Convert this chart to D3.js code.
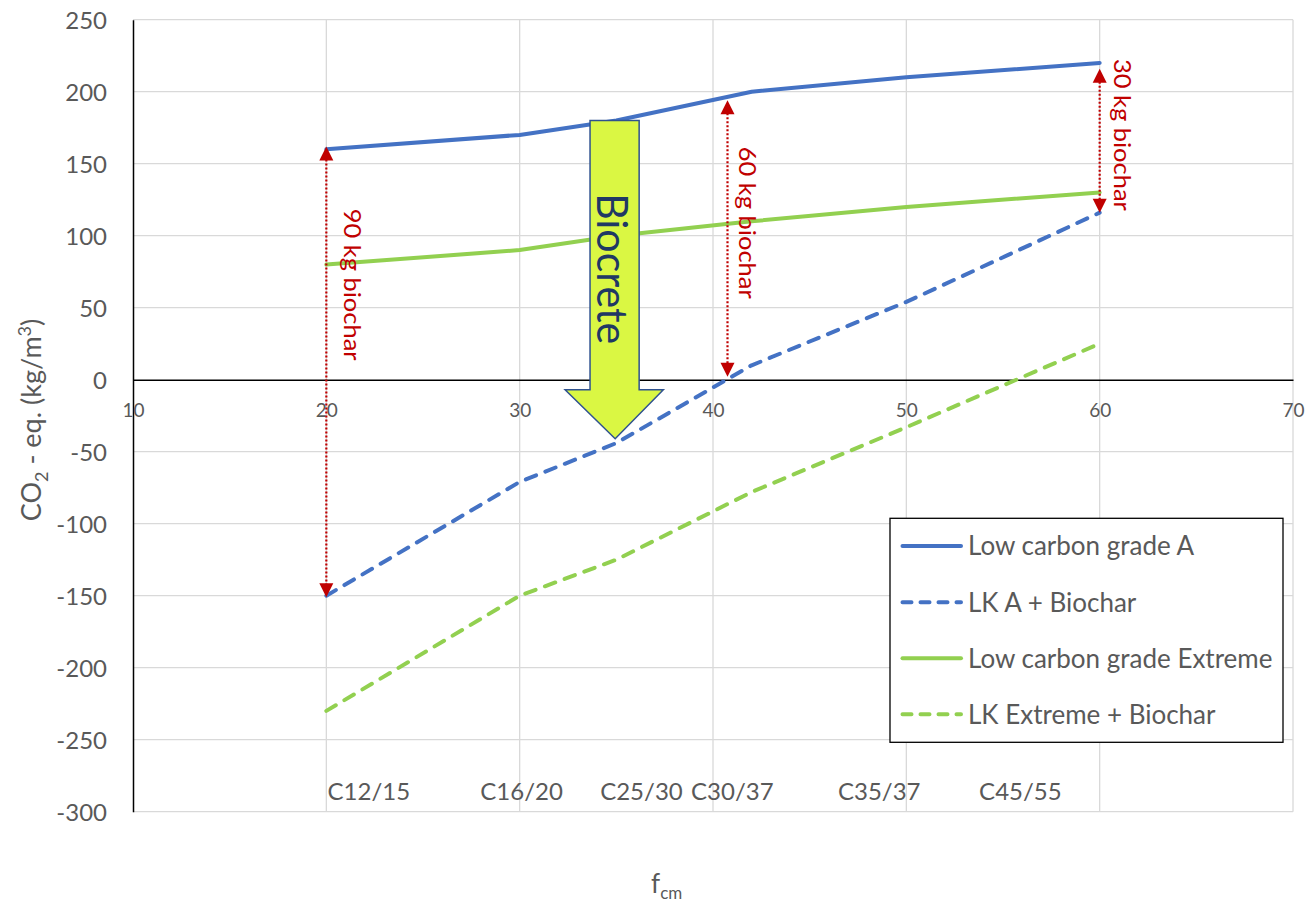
<!DOCTYPE html>
<html>
<head>
<meta charset="utf-8">
<script src="https://cdn.jsdelivr.net/npm/d3@7"></script>
<style>
  html, body { margin: 0; padding: 0; background: #fff; }
  svg { display: block; font-family: Lato, "Open Sans", sans-serif; }
</style>
</head>
<body>
<svg id="chart" width="1308" height="906"></svg>
<script>
// ---------------- data ----------------
const fcm = [20, 30, 35, 42, 50, 60];
const lowCarbonA = [160, 170, 180, 200, 210, 220];
const lkABiochar = [-150, -71, -44, 10, 54, 116];
const lowCarbonExtreme = [80, 90, 100, 110, 120, 130];
const lkExtremeBiochar = [-230, -150, -125, -78, -33, 25];
const seriesNames = ["Low carbon grade A", "LK A + Biochar", "Low carbon grade Extreme", "LK Extreme + Biochar"];

const classLabels = ["C12/15", "C16/20", "C25/30", "C30/37", "C35/37", "C45/55"];
const classLabelFcm = [22.2, 30.1, 36.3, 41.0, 48.6, 55.9];
const classLabelY = -290;

const xTicks = [10, 20, 30, 40, 50, 60, 70];
const yTicks = [-300, -250, -200, -150, -100, -50, 0, 50, 100, 150, 200, 250];

const biocharLabels = ["90 kg biochar", "60 kg biochar", "30 kg biochar"];
const biocharX = [20, 40.75, 60];
const biocharTop = [162, 194, 216];
const biocharBottom = [-151, 2, 116];
const biocharLabelX = [21.35, 41.75, 61.15];
const biocharLabelY = [66, 109, 170];

const biocreteLabel = "Biocrete";

// ---------------- setup ----------------
const svg = d3.select("#chart");
const x = d3.scaleLinear().domain([10, 70]).range([133, 1293]);
const y = d3.scaleLinear().domain([-300, 250]).range([811.7, 19.7]);

const grid = "#D9D9D9";
const textGrey = "#595959";
const blue = "#4472C4";
const green = "#92D050";
const red = "#C00000";

// gridlines
svg.append("g").selectAll("line").data(yTicks.filter(d => d !== 0)).join("line")
  .attr("x1", x(10)).attr("x2", x(70))
  .attr("y1", d => y(d)).attr("y2", d => y(d))
  .attr("stroke", grid).attr("stroke-width", 1.3);
svg.append("g").selectAll("line").data(xTicks.filter(d => d !== 10)).join("line")
  .attr("x1", d => x(d)).attr("x2", d => x(d))
  .attr("y1", y(250)).attr("y2", y(-300))
  .attr("stroke", grid).attr("stroke-width", 1.3);

// y axis
const yAxis = svg.append("g").attr("transform", `translate(${x(10)},0)`)
  .call(d3.axisLeft(y).tickValues(yTicks).tickSize(0).tickPadding(26).tickFormat(d => String(d)));
yAxis.select(".domain").attr("stroke", "#000").attr("stroke-width", 1.5);
yAxis.selectAll("text").attr("font-size", 24).attr("fill", textGrey)
  .attr("font-family", "Lato").attr("dy", "0.36em");

// x axis on the zero line
const xAxis = svg.append("g").attr("transform", `translate(0,${y(0)})`)
  .call(d3.axisBottom(x).tickValues(xTicks).tickSize(0).tickFormat(d => String(d)));
xAxis.select(".domain").attr("stroke", "#000").attr("stroke-width", 1.5);
xAxis.selectAll("text").attr("font-size", 19).attr("fill", textGrey)
  .attr("font-family", "Lato").attr("y", 37).attr("dy", 0);

// class labels
svg.append("g").selectAll("text").data(classLabels).join("text")
  .attr("x", (d, i) => x(classLabelFcm[i]))
  .attr("y", y(classLabelY) + 3)
  .attr("text-anchor", "middle")
  .attr("font-size", 24).attr("fill", textGrey)
  .text(d => d);

// series
const series = [
  { name: seriesNames[0], values: lowCarbonA, color: blue, dash: null },
  { name: seriesNames[1], values: lkABiochar, color: blue, dash: "11,10" },
  { name: seriesNames[2], values: lowCarbonExtreme, color: green, dash: null },
  { name: seriesNames[3], values: lkExtremeBiochar, color: green, dash: "11,10" }
];
const line = d3.line().x(d => x(d[0])).y(d => y(d[1]));
const drawOrder = [2, 3, 1, 0];
drawOrder.forEach(i => {
  const s = series[i];
  svg.append("path")
    .attr("d", line(fcm.map((f, k) => [f, s.values[k]])))
    .attr("fill", "none")
    .attr("stroke", s.color)
    .attr("stroke-width", 4)
    .attr("stroke-linecap", "round")
    .attr("stroke-linejoin", "round")
    .attr("stroke-dasharray", s.dash);
});

// biochar annotations
const ann = svg.append("g");
biocharLabels.forEach((lab, i) => {
  const xp = x(biocharX[i]);
  const yt = y(biocharTop[i]);
  const yb = y(biocharBottom[i]);
  const ah = 14, aw = 7;
  ann.append("line")
    .attr("x1", xp).attr("x2", xp)
    .attr("y1", yt + ah - 1).attr("y2", yb - ah + 1)
    .attr("stroke", red).attr("stroke-width", 2.2)
    .attr("stroke-dasharray", "2,2");
  ann.append("path")
    .attr("d", `M${xp},${yt} L${xp - aw},${yt + ah} L${xp + aw},${yt + ah} Z`)
    .attr("fill", red);
  ann.append("path")
    .attr("d", `M${xp},${yb} L${xp - aw},${yb - ah} L${xp + aw},${yb - ah} Z`)
    .attr("fill", red);
  const lx = x(biocharLabelX[i]);
  const ly = y(biocharLabelY[i]);
  ann.append("text")
    .attr("transform", `translate(${lx},${ly}) rotate(90)`)
    .attr("text-anchor", "middle")
    .attr("dy", "0.36em")
    .attr("font-size", 23)
    .attr("fill", red)
    .attr("textLength", 152)
    .attr("lengthAdjust", "spacingAndGlyphs")
    .text(lab);
});

// Biocrete block arrow (geometry derived from scales)
const ax0 = x(33.64), ax1 = x(36.18);
const hx0 = x(32.35), hx1 = x(37.43);
const tipX = x(34.94);
const topY = y(180), neckY = y(-7), tipY = y(-41);
svg.append("path")
  .attr("d", `M${ax0},${topY} L${ax1},${topY} L${ax1},${neckY} L${hx1},${neckY} L${tipX},${tipY} L${hx0},${neckY} L${ax0},${neckY} Z`)
  .attr("fill", "#DAF743")
  .attr("stroke", "#2F528F")
  .attr("stroke-width", 1.5)
  .attr("stroke-linejoin", "miter");
svg.append("text")
  .attr("transform", `translate(${(ax0 + ax1) / 2 - 2},${y(77)}) rotate(90)`)
  .attr("text-anchor", "middle")
  .attr("dy", "0.36em")
  .attr("font-size", 42)
  .attr("fill", "#203864")
  .attr("textLength", 151)
  .attr("lengthAdjust", "spacingAndGlyphs")
  .text(biocreteLabel);

// legend
const lg = svg.append("g");
lg.append("rect").attr("x", 890).attr("y", 518.3).attr("width", 393).attr("height", 224)
  .attr("fill", "#fff").attr("stroke", "#000").attr("stroke-width", 1.3);
const legendY = [546, 602.3, 658.3, 714.3];
series.forEach((s, i) => {
  lg.append("line")
    .attr("x1", 902.5).attr("x2", 961)
    .attr("y1", legendY[i]).attr("y2", legendY[i])
    .attr("stroke", s.color).attr("stroke-width", 4)
    .attr("stroke-linecap", "round")
    .attr("stroke-dasharray", s.dash ? "9,9" : null);
  lg.append("text")
    .attr("x", 968).attr("y", legendY[i]).attr("dy", "0.36em")
    .attr("font-size", 26).attr("fill", textGrey)
    .text(s.name);
});

// axis titles
const yt = svg.append("text")
  .attr("transform", `translate(41,420) rotate(-90)`)
  .attr("text-anchor", "middle")
  .attr("font-size", 27).attr("fill", textGrey);
yt.append("tspan").text("CO");
yt.append("tspan").attr("font-size", 18).attr("dy", 7).text("2");
yt.append("tspan").attr("dy", -7).text(" - eq. (kg/m");
yt.append("tspan").attr("font-size", 18).attr("dy", -10).text("3");
yt.append("tspan").attr("dy", 10).text(")");

const xt = svg.append("text")
  .attr("x", 651).attr("y", 893)
  .attr("font-size", 26).attr("fill", textGrey);
xt.append("tspan").text("f");
xt.append("tspan").attr("font-size", 17).attr("dy", 6).text("cm");
</script>
</body>
</html>
